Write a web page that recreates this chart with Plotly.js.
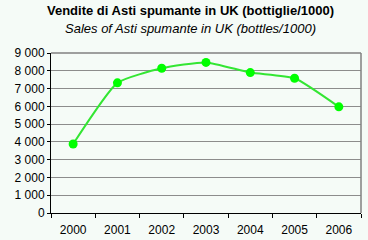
<!DOCTYPE html>
<html><head><meta charset="utf-8">
<script src="https://cdn.plot.ly/plotly-3.0.1.min.js"></script>
<style>html,body{margin:0;padding:0;background:#f5fbf7;}#c{width:368px;height:240px;}</style>
</head><body><div id="c"></div>
<script>
const years = ["2000","2001","2002","2003","2004","2005","2006"];
const sales = [3880, 7320, 8140, 8470, 7900, 7580, 5970];
const yTicks = [0,1000,2000,3000,4000,5000,6000,7000,8000,9000];
const titleIt = 'Vendite di Asti spumante in UK (bottiglie/1000)';
const titleEn = 'Sales of Asti spumante in UK (bottles/1000)';

const trace = {
  x: years, y: sales, type: 'scatter', mode: 'lines+markers',
  line: {color: '#33e633', width: 2, shape: 'spline', smoothing: 0.5},
  marker: {color: '#00ff00', size: 9, symbol: 'circle', line: {width: 0}},
  hoverinfo: 'none'
};
const tf = {family: 'Liberation Sans, Arial, sans-serif', size: 13, color: '#000'};
const layout = {
  width: 368, height: 240,
  paper_bgcolor: '#f5fbf7', plot_bgcolor: '#f5fbf7',
  margin: {l: 51, r: 7, t: 53, b: 27},
  separators: '. ',
  showlegend: false,
  font: {family: 'Liberation Sans, Arial, sans-serif', size: 12, color: '#000'},
  annotations: [
    {text: '<b>' + titleIt + '</b>', xref: 'paper', yref: 'paper', x: 0.45, y: 1, yshift: 43, xanchor: 'center', yanchor: 'middle', showarrow: false, font: tf},
    {text: '<i>' + titleEn + '</i>', xref: 'paper', yref: 'paper', x: 0.45, y: 1, yshift: 25, xanchor: 'center', yanchor: 'middle', showarrow: false, font: tf}
  ],
  xaxis: {
    type: 'category', range: [-0.5, 6.5], tickson: 'boundaries',
    showline: true, linecolor: '#000', linewidth: 1,
    ticks: 'outside', ticklen: 4, tickcolor: '#000',
    showgrid: false, zeroline: false, mirror: false,
    ticklabelstandoff: 6,
    tickfont: {size: 12}
  },
  yaxis: {
    range: [0, 9000], tickvals: yTicks, tickformat: ',d',
    showline: true, linecolor: '#000', linewidth: 1,
    ticks: 'outside', ticklen: 3, tickcolor: '#000',
    showgrid: true, gridcolor: '#8c8c8c', gridwidth: 1, zeroline: false,
    tickfont: {size: 12}
  },
  shapes: [
    {type: 'line', xref: 'paper', yref: 'paper', x0: 0, x1: 1, y0: 1, y1: 1, line: {color: '#808080', width: 1.5}},
    {type: 'line', xref: 'paper', yref: 'paper', x0: 1, x1: 1, y0: 0, y1: 1, line: {color: '#808080', width: 1.5}}
  ]
};
Plotly.newPlot('c', [trace], layout, {displayModeBar: false, staticPlot: true});
</script></body></html>
